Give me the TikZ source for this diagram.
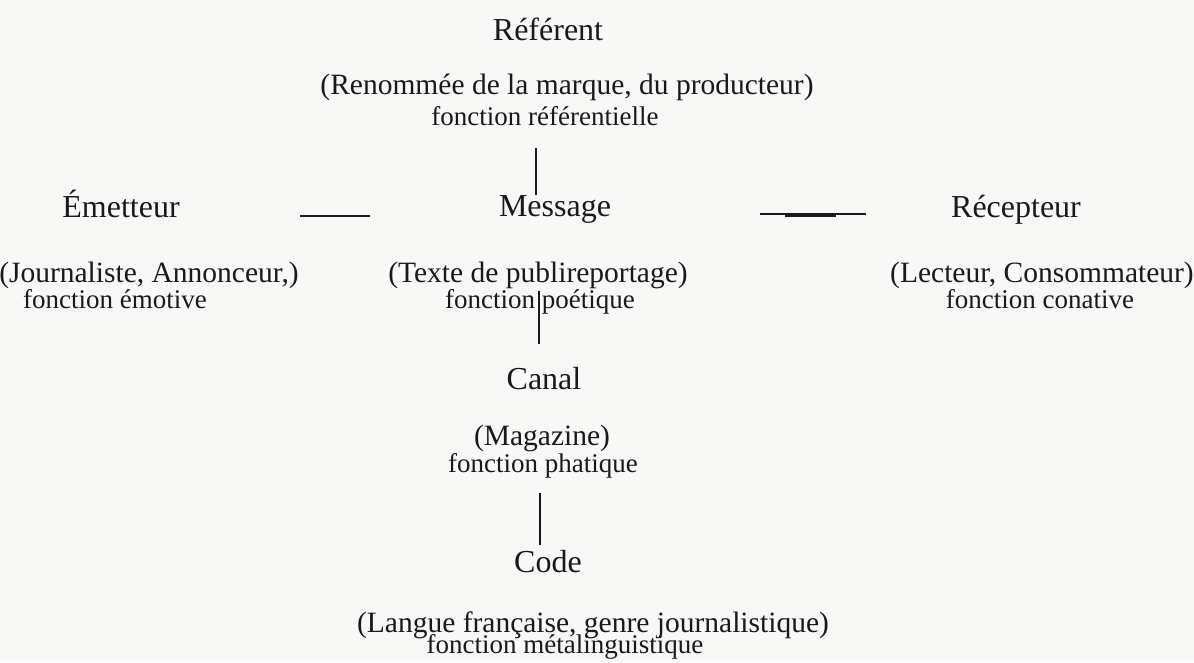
\documentclass[tikz,border=0pt]{standalone}
\usepackage{fontspec}
\setmainfont{Liberation Serif}
\definecolor{paper}{RGB}{248,248,247}
\definecolor{ink}{RGB}{25,25,25}
\tikzset{
  title/.style={inner sep=0pt, anchor=base, text=ink, font=\fontsize{32}{32}\selectfont},
  desc/.style={inner sep=0pt, anchor=base, text=ink, font=\fontsize{29.5}{29.5}\selectfont},
  func/.style={inner sep=0pt, anchor=base, text=ink, font=\fontsize{27}{27}\selectfont},
  link/.style={draw=ink, line width=2pt},
}
\begin{document}
\begin{tikzpicture}[x=1pt,y=-1pt]
\fill[paper] (0,0) rectangle (1194,662);
\useasboundingbox (0,0) rectangle (1194,662);
% Referent
\node[title] (ref) at (548,40) {Référent};
\node[desc] (refd) at (567,94) {(Renommée de la marque, du producteur)};
\node[func] (reff) at (545,125) {fonction référentielle};
% Emetteur
\node[title] (em) at (121,217) {Émetteur};
\node[desc] (emd) at (149,282) {(Journaliste, Annonceur,)};
\node[func] (emf) at (115,308) {fonction émotive};
% Message
\node[title] (msg) at (555,216) {Message};
\node[desc] (msgd) at (538,282) {(Texte de publireportage)};
\node[func] (msgf) at (540,308) {fonction poétique};
% Recepteur
\node[title] (rec) at (1016,217) {Récepteur};
\node[desc] (recd) at (1042,282) {(Lecteur, Consommateur)};
\node[func] (recf) at (1040,308) {fonction conative};
% Canal
\node[title] (can) at (544,389) {Canal};
\node[desc] (cand) at (542,445) {(Magazine)};
\node[func] (canf) at (543,472) {fonction phatique};
% Code
\node[title] (code) at (548,572) {Code};
\node[desc] (coded) at (593,632) {(Langue française, genre journalistique)};
\node[func] (codef) at (565,653) {fonction métalinguistique};
% connector coordinates
\coordinate (v1a) at (536,148);
\coordinate (v1b) at (536,195);
\coordinate (hla) at (300,216);
\coordinate (hlb) at (370,216);
\coordinate (hra) at (760,214);
\coordinate (hrb) at (866,214);
\coordinate (hrma) at (785,214.5);
\coordinate (hrmb) at (836,214.5);
\coordinate (v2a) at (539,291);
\coordinate (v2b) at (539,344);
\coordinate (v3a) at (540,493);
\coordinate (v3b) at (540,545);
% connectors
\draw[link] (v1a) -- (v1b);
\draw[link, line width=2.5pt] (hla) -- (hlb);
\draw[link] (hra) -- (hrb);
\draw[link, line width=4pt] (hrma) -- (hrmb);
\draw[link] (v2a) -- (v2b);
\draw[link] (v3a) -- (v3b);
\end{tikzpicture}
\end{document}
